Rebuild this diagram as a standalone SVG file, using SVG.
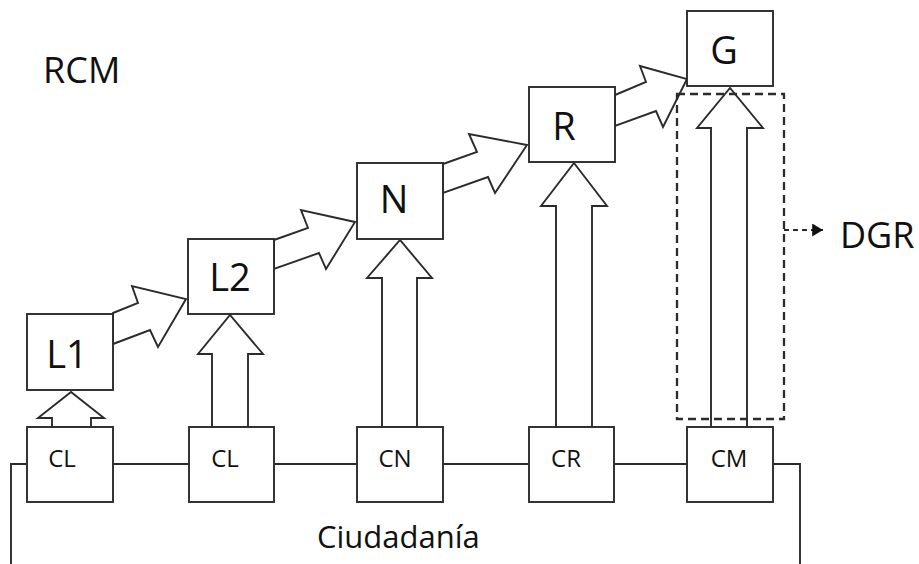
<svg xmlns="http://www.w3.org/2000/svg" width="919" height="564" viewBox="0 0 919 564">
<style>
.box{fill:#fff;stroke:#2b2b2b;stroke-width:1.9}
.line{fill:none;stroke:#2b2b2b;stroke-width:1.9}
.arr{fill:#fff;stroke:#2b2b2b;stroke-width:1.9;stroke-linejoin:miter}
.dash{fill:none;stroke:#2b2b2b;stroke-width:2.3;stroke-dasharray:8,5}
text{font-family:"Open Sans","Liberation Sans",sans-serif;fill:#111}
.big{font-size:38px}
.small{font-size:24px}
</style>
<defs>
<marker id="tri" viewBox="0 0 10 12" refX="10" refY="6" markerWidth="11" markerHeight="13" markerUnits="userSpaceOnUse" orient="auto">
<path d="M0,0 L10,6 L0,12 Z" fill="#111"/>
</marker>
</defs>
<text x="43" y="83" style="font-size:36px">RCM</text>
<g id="connectors">
<polyline class="line" points="11,564 11,464 800,464 800,564"/>
<polygon class="arr" points="52,427 52,418 38,418 71,392 104,418 91,418 91,427"/>
<polygon class="arr" points="212,427 212,354 198,354 230,315 263,354 248,354 248,427"/>
<polygon class="arr" points="382,427 382,278 367,278 400,240 432,278 417,278 417,427"/>
<polygon class="arr" points="556,427 556,206 541,206 574,163 607,206 592,206 592,427"/>
<polygon class="arr" points="711,427 711,128 697,128 730,88 763,128 747,128 747,427"/>
<polygon class="arr" points="113,313 138,303 132,286 186,299 158,347 150,330 113,344"/>
<polygon class="arr" points="274,240 308,228 301,210 355,222 326,269 319,253 274,269"/>
<polygon class="arr" points="443,164 477,152 469,134 527,145 495,193 488,177 443,193"/>
<polygon class="arr" points="615,95 646,82 640,66 687,79 663,127 656,111 615,126"/>
<line x1="784" y1="230" x2="823" y2="230" style="fill:none;stroke:#2b2b2b;stroke-width:2;stroke-dasharray:5,4" marker-end="url(#tri)"/>
</g>
<g id="L1"><rect class="box" x="27" y="314" width="86" height="76"/><text class="big" x="67" y="368" text-anchor="middle">L1</text></g>
<g id="L2"><rect class="box" x="188" y="239" width="86" height="75"/><text class="big" x="230" y="291" text-anchor="middle">L2</text></g>
<g id="N"><rect class="box" x="357" y="163" width="86" height="76"/><text class="big" x="394" y="213" text-anchor="middle">N</text></g>
<g id="R"><rect class="box" x="529" y="87" width="86" height="75"/><text class="big" x="564" y="140" text-anchor="middle">R</text></g>
<g id="G"><rect class="box" x="687" y="11" width="86" height="75"/><text class="big" x="724" y="64" text-anchor="middle">G</text></g>
<g id="CL1"><rect class="box" x="27" y="427" width="86" height="75"/><text class="small" x="62" y="467" text-anchor="middle">CL</text></g>
<g id="CL2"><rect class="box" x="189" y="427" width="85" height="75"/><text class="small" x="225" y="467" text-anchor="middle">CL</text></g>
<g id="CN"><rect class="box" x="357" y="427" width="86" height="75"/><text class="small" x="395" y="467" text-anchor="middle">CN</text></g>
<g id="CR"><rect class="box" x="529" y="427" width="85" height="75"/><text class="small" x="566" y="467" text-anchor="middle">CR</text></g>
<g id="CM"><rect class="box" x="687" y="427" width="86" height="75"/><text class="small" x="729" y="467" text-anchor="middle">CM</text></g>
<g id="DGR-group"><rect class="dash" x="677" y="94" width="107" height="325"/></g>
<g id="DGR"><text x="840" y="248" style="font-size:36px">DGR</text></g>
<g id="Ciudadania"><text x="317" y="548" style="font-size:31px">Ciudadanía</text></g>
</svg>
